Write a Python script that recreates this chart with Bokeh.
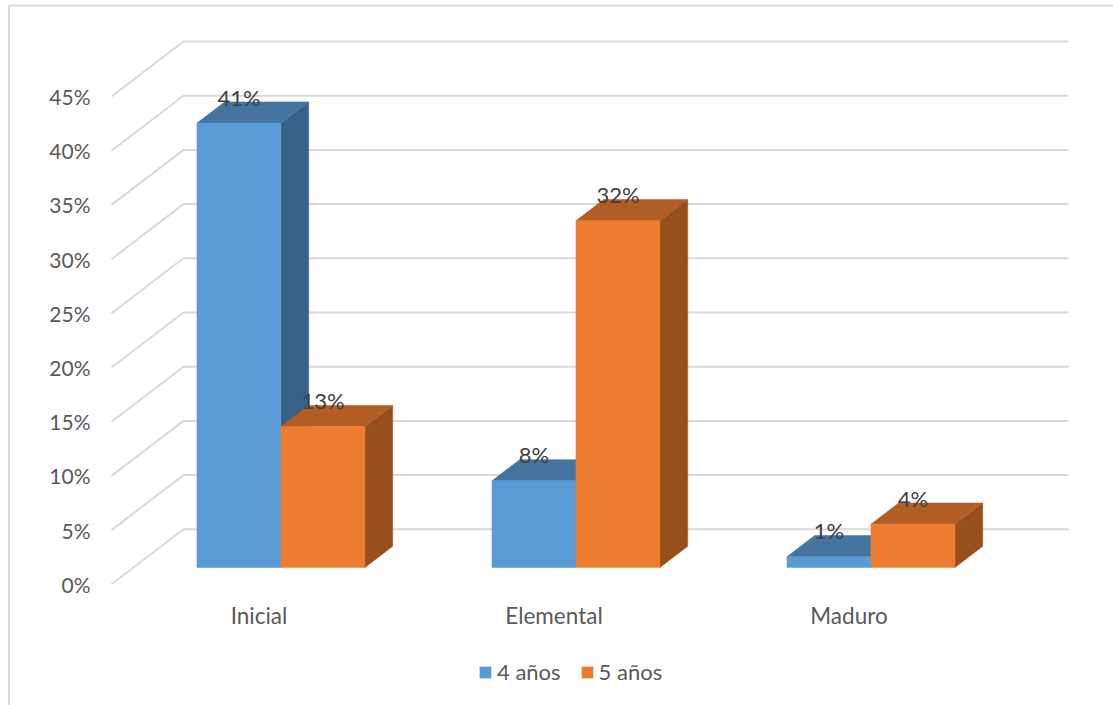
from bokeh.embed import file_html
from bokeh.resources import INLINE
from bokeh.plotting import figure
from bokeh.models import FixedTicker, Legend, LegendItem, LinearAxis, PrintfTickFormatter, Range1d
from bokeh.core.properties import value

categories = ["Inicial", "Elemental", "Maduro"]
series_names = ["4 años", "5 años"]
values_4 = [41, 8, 1]
values_5 = [13, 32, 4]
y_ticks = [0, 5, 10, 15, 20, 25, 30, 35, 40, 45]

W, H = 1113, 705
FONT = "Lato"
TICK_COLOR = "#595959"
GRID_COLOR = "#d9d9d9"

# Scale of the chart: pixels per category and per percentage point
PX_CAT, PX_PCT = 295.0, 10.84
ORIGIN_X, ORIGIN_Y = 258.5, 583.8

# Oblique projection: depth 0 is the front of the floor, depth 1 the back wall
DEPTH_DX = 72.0 / PX_CAT
DEPTH_DY = 55.0 / PX_PCT
BAR_FRONT, BAR_BACK = 0.305, 0.69
BAR_W = 84.0 / PX_CAT


def proj(x, y, d):
    return x + d * DEPTH_DX, y + d * DEPTH_DY


def sx(px):
    return (px - ORIGIN_X) / PX_CAT


def sy(px):
    return (ORIGIN_Y - px) / PX_PCT


p = figure(
    width=W, height=H, output_backend="svg", toolbar_location=None,
    x_range=Range1d(sx(0), sx(W)), y_range=Range1d(sy(H), sy(0)),
    min_border=0, x_axis_location=None, y_axis_location=None,
    background_fill_color="white", border_fill_color="white",
)
p.outline_line_color = None
p.grid.visible = False

# Card border around the chart
p.line([sx(8.5), sx(8.5), sx(W)], [sy(H), sy(5), sy(5)], line_color=GRID_COLOR, line_width=2)

# Side wall and back wall gridlines
for v in y_ticks:
    a = proj(-0.5, v, 0)
    b = proj(-0.5, v, 1)
    c = proj(2.5, v, 1)
    p.line([a[0], b[0], c[0]], [a[1], b[1], c[1]], line_color=GRID_COLOR, line_width=2)

# Axes sit inside the frame at fixed positions
yaxis = LinearAxis(
    ticker=FixedTicker(ticks=y_ticks),
    formatter=PrintfTickFormatter(format="%d%%"),
    fixed_location=sx(96),
    axis_line_color=None, major_tick_line_color=None, minor_tick_line_color=None,
    major_label_standoff=0,
    major_label_text_font=FONT, major_label_text_font_size="21px",
    major_label_text_color=TICK_COLOR,
)
p.add_layout(yaxis, "left")

xaxis = LinearAxis(
    ticker=FixedTicker(ticks=list(range(len(categories)))),
    major_label_overrides={i: c for i, c in enumerate(categories)},
    fixed_location=sy(595),
    axis_line_color=None, major_tick_line_color=None, minor_tick_line_color=None,
    major_label_standoff=0,
    major_label_text_font=FONT, major_label_text_font_size="22.5px",
    major_label_text_color=TICK_COLOR,
)
p.add_layout(xaxis, "below")


def draw_bar(x0, x1, v, front, top, side):
    fl = proj(x0, 0, BAR_FRONT)
    fr = proj(x1, 0, BAR_FRONT)
    br = proj(x1, 0, BAR_BACK)
    tfl = proj(x0, v, BAR_FRONT)
    tfr = proj(x1, v, BAR_FRONT)
    tbr = proj(x1, v, BAR_BACK)
    tbl = proj(x0, v, BAR_BACK)
    p.patch([fr[0], br[0], tbr[0], tfr[0]], [fr[1], br[1], tbr[1], tfr[1]], fill_color=side, line_color=side, line_width=0.5)
    p.patch([tfl[0], tfr[0], tbr[0], tbl[0]], [tfl[1], tfr[1], tbr[1], tbl[1]], fill_color=top, line_color=top, line_width=0.5)
    return p.quad(left=fl[0], right=fr[0], bottom=fl[1], top=tfl[1], fill_color=front, line_color=front, line_width=0.5)


styles = [("#5b9bd5", "#44749f", "#376186"), ("#ed7d31", "#b25d24", "#974f1b")]
renderers = [None, None]
label_x, label_y, label_text = [], [], []

for i in range(len(categories)):
    for s, vals in enumerate((values_4, values_5)):
        x0 = i - BAR_W + s * BAR_W
        x1 = x0 + BAR_W
        renderers[s] = draw_bar(x0, x1, vals[i], *styles[s])
        lx, ly = proj((x0 + x1) / 2, vals[i], BAR_FRONT)
        label_x.append(lx)
        label_y.append(ly)
        label_text.append(f"{vals[i]}%")

p.text(
    label_x, label_y, text=label_text, text_align="center", text_baseline="middle",
    y_offset=-26, text_font=value(FONT), text_font_size="22px", text_color="#404040",
)

legend = Legend(
    items=[LegendItem(label=n, renderers=[r]) for n, r in zip(series_names, renderers)],
    orientation="horizontal", location=(478, 20),
    border_line_color=None, background_fill_alpha=0,
    glyph_width=14, glyph_height=14, label_standoff=5, spacing=19,
    padding=0, margin=0,
    label_text_font=FONT, label_text_font_size="22px", label_text_color=TICK_COLOR,
)
p.add_layout(legend, "center")

open("out.html", "w").write(file_html(p, INLINE))
